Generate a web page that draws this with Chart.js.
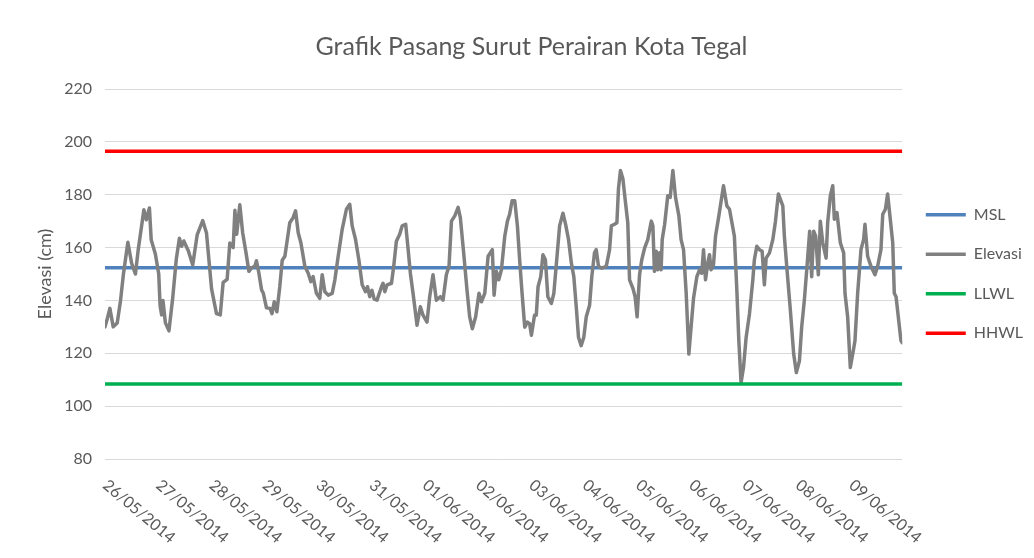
<!DOCTYPE html>
<html>
<head>
<meta charset="utf-8">
<script src="https://cdn.jsdelivr.net/npm/chart.js@4.4.1/dist/chart.umd.min.js"></script>
<style>
  html, body { margin: 0; padding: 0; background: #ffffff; }
  #wrap { width: 1034px; height: 558px; position: relative; }
</style>
</head>
<body>
<div id="wrap"><canvas id="c" width="1034" height="558"></canvas></div>
<script>
// ---- data ----
const chartTitle = 'Grafik Pasang Surut Perairan Kota Tegal';
const yTitle = 'Elevasi (cm)';
const dateLabels = ['26/05/2014','27/05/2014','28/05/2014','29/05/2014','30/05/2014','31/05/2014','01/06/2014','02/06/2014','03/06/2014','04/06/2014','05/06/2014','06/06/2014','07/06/2014','08/06/2014','09/06/2014'];
const yTicks = [80, 100, 120, 140, 160, 180, 200, 220];

// hour index since 26/05/2014 00:00
const hours = [0,1,2.2,3.7,5.5,7,8.3,10.3,12,13.7,15,16.7,17.5,18.6,20,20.8,22.7,24.2,24.8,25.5,26.1,27.2,28.8,30.5,32.1,33.5,34.5,35.5,37.5,39.5,41.5,44,45.7,48,50.2,51.9,53.2,55,56.2,57.7,58.5,59.3,60.7,62,63.5,64.8,66,67.5,68.2,69.3,70.5,71.3,72.7,74.3,75.2,76.2,77.4,78.7,79.8,81,83.2,84.7,85.8,87,88.2,90,91.5,92.7,93.7,95.2,96.7,97.8,99,100.5,102.3,103.5,105,106.8,108.7,110.2,111.3,112.8,114.3,115.8,117.3,118.2,119.2,120.2,121.2,122.5,124.5,125.2,126,127,129,130,131.2,132.7,133.8,135.4,136.5,137.5,138.7,140.5,142,143.2,145,146.2,147.7,149.2,151,152.2,153.7,154.9,156,157.5,159,160,161.5,163,164.2,165.4,166.9,168.4,169.5,171,172.5,174.4,175.2,176.2,177.3,178.5,180,181.2,182.2,183.3,184.5,185.7,186.7,187.8,189,190.2,191.2,192,193.4,194.2,195,196.2,197.2,198.3,199.4,201,202.1,203.6,204.7,206.2,207.4,208.7,210,211.1,212.2,213.2,214.4,215.6,216.7,218.2,219.2,220.4,221.2,222.2,223.7,225.7,227.2,228,229.4,230.5,231.2,232.1,233.2,234.2,235.4,236.2,237.7,238.7,239.6,240.7,241.7,243,244.4,246,246.7,247.4,248.2,248.9,249.7,250.4,250.9,252,253.4,254.5,255.7,256.9,258.4,259.4,260.5,261.7,262.9,263.9,265,266.5,267.7,268.7,269.5,270.4,271.4,272.2,272.9,274,274.9,276.4,278.5,280,281.2,283.4,284.5,285.4,286.4,287.5,288.7,290.2,291.7,292.4,293.5,294.7,295.9,296.9,297.7,299.2,300.7,301.9,303.2,305.2,305.9,307.1,308.6,310.1,311.3,312.7,313.7,314.9,316.1,317.3,318.2,319.1,320,321.2,322.1,323.2,324.7,325.4,326.6,327.7,328.4,329.6,331.1,332.6,333.2,334.4,335.6,337.1,337.7,338.9,340.4,341.6,342.2,343.4,344.9,346.7,347.9,349.4,350.2,351.4,352.4,353.6,354.7,355.4,356.2,357.2,358.4,359];
const elevasi = [130,133,137,130,131.5,140,150,162,154,150,159.5,169.5,174.3,170.5,175,163,157.5,150,138,134.5,140,131.5,128.5,141,155.6,163.5,160.5,162.5,158.8,153.4,164.8,170.2,165.5,144.3,135,134.5,146.8,148,161.7,160,174.1,165,176.2,165.5,158,151,152.3,153,155,150.3,144,142.7,137.2,137,135,139.5,135.7,145.2,155.2,156.7,169.4,171.3,173.9,165.6,161.8,152.9,150.3,147.1,149,142.7,140.8,149.7,143.3,142,142.7,147.8,156.7,166.9,174.5,176.4,168.2,163.1,155.4,145.9,143.3,145.2,141.4,143.8,140.5,140.1,145.2,146.5,143.3,145.9,146.5,152.9,162.4,165,168.2,168.8,159.2,150.3,142.7,130.6,137.6,134.4,131.8,141.4,149.7,140.1,141.4,140.1,149.7,152.9,170,172,175.2,171.3,158,143.9,133.8,129.3,133.8,142.7,139.5,142.7,156.7,159.2,142,151,147.8,151.6,164.3,170,172.6,177.7,177.7,168.2,155.4,142.7,129.9,131.8,131.2,126.8,134.4,134.4,145.2,149,157.3,155.4,141.4,138.9,142.7,157.3,168.2,173,168.8,163.1,154.1,149,137.6,126.1,122.9,126.1,133.8,138.2,149,158,159.2,152.9,152.2,152.9,159.2,168.2,168.8,169.4,182.2,189.2,186,178.3,169.4,147.8,144.6,141.4,133.8,149.7,155.4,159.9,163,170,168.2,151,158.6,151.6,158,151.6,163,168.8,179.6,179,189.2,179,172,163,159.2,142.7,119.7,129.9,140.8,149,151.6,150.3,159.2,147.8,154.1,157.3,151.6,153.5,164.3,172,183.4,175.8,174.5,164.3,144,124.8,108.9,114.6,126.1,135,147.8,155.4,160.5,159.2,158.6,145.9,156,158,163,170,180.3,175.8,164.3,151.6,136.3,119.7,112.7,117.2,129.9,140.1,152.9,166.2,149,166.2,164.3,149.7,170,161.8,156,169.4,179.6,183.4,170.7,173.2,161.8,158,142.7,133.8,114.6,121.7,124.8,142.7,159.2,163.1,168.8,156.7,152.9,149.7,152.9,159.2,172.6,174.5,180.3,170.7,161.8,142.7,141.4,133.8,124.8,124];

const MSL = 152.4;
const LLWL = 108.4;
const HHWL = 196.4;
const lastHour = 359;

// ---- chart ----
const FONT = 'Lato';
const TXT = '#595959';

const flat = (v) => [{x: 0, y: v}, {x: lastHour, y: v}];

const xLabelPlugin = {
  id: 'xLabels',
  afterDraw(chart) {
    const xs = chart.scales.x;
    const ctx = chart.ctx;
    ctx.save();
    ctx.font = '16px ' + FONT;
    ctx.fillStyle = TXT;
    ctx.textAlign = 'left';
    ctx.textBaseline = 'middle';
    dateLabels.forEach((lab, i) => {
      const px = xs.getPixelForValue(i * 24);
      ctx.save();
      ctx.translate(px, chart.chartArea.bottom + 24);
      ctx.rotate(40 * Math.PI / 180);
      ctx.fillText(lab, 0, 0);
      ctx.restore();
    });
    ctx.restore();
  }
};

const bgPlugin = {
  id: 'bg',
  beforeDraw(chart) {
    const ctx = chart.ctx;
    ctx.save();
    ctx.fillStyle = '#ffffff';
    ctx.fillRect(0, 0, chart.width, chart.height);
    ctx.restore();
  }
};

new Chart(document.getElementById('c'), {
  type: 'line',
  data: {
    datasets: [
      { label: 'MSL', data: flat(MSL), borderColor: '#4f81bd', backgroundColor: '#4f81bd', borderWidth: 3.5, pointRadius: 0, order: 3 },
      { label: 'Elevasi', data: hours.map((h, i) => ({x: h, y: elevasi[i]})), borderColor: '#808080', backgroundColor: '#808080', borderWidth: 3.5, pointRadius: 0, borderJoinStyle: 'round', borderCapStyle: 'round', order: 2 },
      { label: 'LLWL', data: flat(LLWL), borderColor: '#00b050', backgroundColor: '#00b050', borderWidth: 3.5, pointRadius: 0, order: 1 },
      { label: 'HHWL', data: flat(HHWL), borderColor: '#ff0000', backgroundColor: '#ff0000', borderWidth: 3.5, pointRadius: 0, order: 0 }
    ]
  },
  options: {
    responsive: false,
    animation: false,
    layout: { padding: { left: 30, right: 1, top: 0, bottom: 99 } },
    plugins: {
      title: {
        display: true, text: chartTitle, color: TXT,
        font: { family: FONT, size: 25, weight: 'normal' },
        padding: { top: 32, bottom: 27 }
      },
      legend: {
        display: true, position: 'right', fullSize: false,
        labels: {
          usePointStyle: true, pointStyle: 'line', pointStyleWidth: 40,
          padding: 23.5, color: TXT, font: { family: FONT, size: 16 },
          sort: (a, b) => a.datasetIndex - b.datasetIndex
        }
      },
      tooltip: { enabled: false }
    },
    scales: {
      x: {
        type: 'linear', min: 0, max: lastHour,
        ticks: { display: false },
        grid: { display: false, drawTicks: false },
        border: { display: false }
      },
      y: {
        min: 80, max: 220,
        afterBuildTicks: (s) => { s.ticks = yTicks.map(v => ({ value: v })); },
        afterFit: (s) => { s.width = 75; },
        ticks: { color: TXT, font: { family: FONT, size: 16 }, padding: 13 },
        grid: { color: '#d9d9d9', lineWidth: 1, drawTicks: false },
        border: { display: false },
        title: { display: true, text: yTitle, color: TXT, font: { family: FONT, size: 18 } }
      }
    }
  },
  plugins: [bgPlugin, xLabelPlugin]
});
</script>
</body>
</html>
